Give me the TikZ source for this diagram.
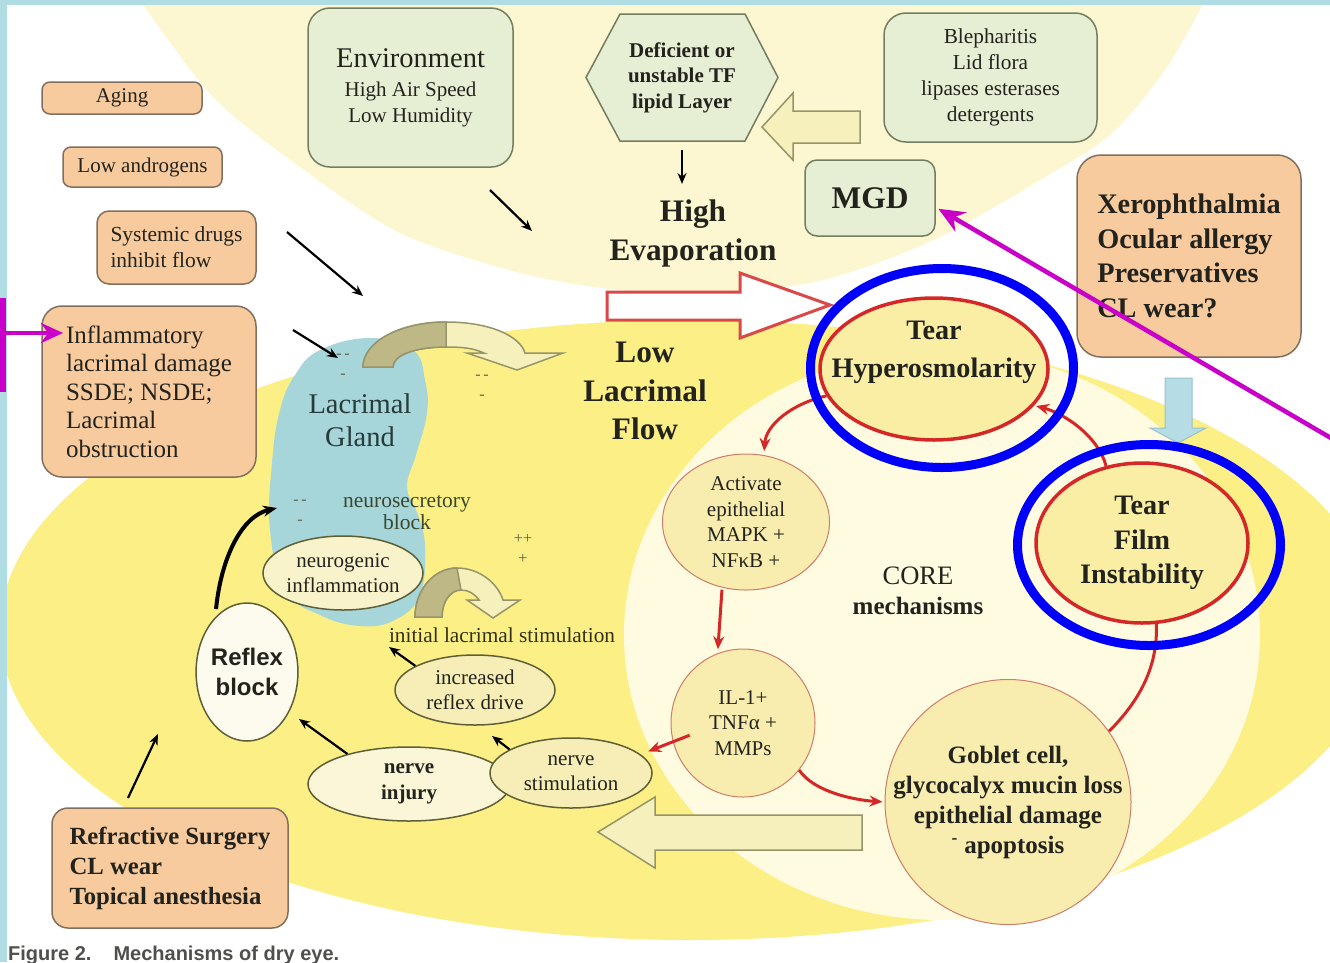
\documentclass[tikz,border=0pt]{standalone}
\usepackage{fontspec}
\setmainfont{Liberation Serif}
\setsansfont{Liberation Sans}
\usetikzlibrary{arrows.meta,shapes.geometric}

\newcommand{\setfs}[2]{\fontsize{#1}{#2}\selectfont}

\definecolor{edgecyan}{RGB}{176,221,228}
\definecolor{paleyellow}{RGB}{252,247,208}
\definecolor{brightyellow}{RGB}{252,239,133}
\definecolor{corecream}{RGB}{255,251,225}
\definecolor{boxorange}{RGB}{248,203,158}
\definecolor{orangeedge}{RGB}{130,112,95}
\definecolor{boxgreen}{RGB}{230,238,212}
\definecolor{greenedge}{RGB}{115,125,95}
\definecolor{ovalfill}{RGB}{249,236,175}
\definecolor{ovaledge}{RGB}{205,125,105}
\definecolor{tearfill}{RGB}{250,238,165}
\definecolor{tearred}{RGB}{212,40,40}
\definecolor{ringblue}{RGB}{0,0,250}
\definecolor{nervefill}{RGB}{246,238,182}
\definecolor{oliveedge}{RGB}{95,95,55}
\definecolor{glandblue}{RGB}{166,214,218}
\definecolor{glandtext}{RGB}{40,58,58}
\definecolor{arrowpale}{RGB}{246,241,188}
\definecolor{arrowolive}{RGB}{190,184,135}
\definecolor{arrowedge}{RGB}{150,148,105}
\definecolor{flowblue}{RGB}{182,220,230}
\definecolor{flowedge}{RGB}{150,195,205}
\definecolor{markmagenta}{RGB}{200,0,200}
\definecolor{inktext}{RGB}{35,35,30}
\definecolor{signgray}{RGB}{95,95,80}

\begin{document}
\begin{tikzpicture}[x=1pt, y=-1pt, text=inktext,
    orangebox/.style={draw=orangeedge, fill=boxorange, line width=1.5pt, rounded corners=12pt, inner sep=0pt},
    greenbox/.style={draw=greenedge, fill=boxgreen, line width=1.5pt, rounded corners=22pt, inner sep=0pt},
    coreoval/.style={ellipse, draw=ovaledge, fill=ovalfill, line width=1pt, inner sep=0pt, align=center, font=\setfs{21}{25.5}},
    tearoval/.style={ellipse, draw=tearred, fill=tearfill, line width=3.5pt, inner sep=0pt, align=center, font=\bfseries\setfs{28.2}{34.5}},
    bluering/.style={ellipse, draw=ringblue, line width=9pt, inner sep=0pt},
    nerveoval/.style={ellipse, draw=oliveedge, fill=nervefill, line width=1.5pt, inner sep=0pt, align=center, font=\setfs{21}{25.5}},
    smalltext/.style={font=\setfs{21.3}{25.5}, align=center},
    headline/.style={font=\bfseries\setfs{31.3}{39}, align=center},
    signlabel/.style={font=\setfs{16}{20}, align=center, text=signgray},
    blackarrow/.style={-{Stealth[length=11pt,width=9pt]}, line width=2.2pt},
    redarrow/.style={-{Stealth[length=13pt,width=11pt]}, draw=tearred, line width=3pt},
    magarrow/.style={-{Stealth[length=26pt,width=22pt]}, draw=markmagenta, line width=4.5pt},
    hollowarrow/.style={draw=arrowedge, fill=arrowpale, line width=1.5pt}]

    % frame and background zones
    \useasboundingbox (0,0) rectangle (1330,962);
    \fill[white] (0,0) rectangle (1330,962);
    \fill[paleyellow] plot[smooth] coordinates {(140,0) (213,97) (300,167) (400,233) (520,273) (620,290) (720,293) (810,283) (880,262) (950,232) (1040,180) (1110,135) (1165,70) (1205,0)} -- cycle;
    \fill[brightyellow] (690,630) ellipse [x radius=690, y radius=310];
    \fill[corecream] (942,635) ellipse [x radius=318, y radius=285];
    \fill[edgecyan] (0,0) rectangle (7,962);
    \fill[edgecyan] (0,0) rectangle (1330,5);

    % lacrimal gland
    \fill[glandblue] plot[smooth cycle, tension=0.7] coordinates {(370,338) (413,350) (425,380) (427,413) (416,455) (407,487) (418,515) (425,547) (420,595) (395,620) (360,626) (320,615) (285,590) (270,530) (272,463) (280,410) (295,375) (320,350)};
    \node[font=\setfs{28.5}{33}, align=center, text=glandtext] (glandlabel) at (360,420) {Lacrimal\\Gland};
    \node[smalltext, font=\setfs{21.5}{22}, text=glandtext!80!olive] (neurosec) at (407,513) {neurosecretory\\block};

    % curved flow arrows
    \filldraw[hollowarrow] (363,367) .. controls (363,342) and (400,322) .. (446,322) .. controls (490,322) and (520,336) .. (525,353) -- (563,353) -- (517,370) -- (467,353) -- (484,353) .. controls (473,348) and (462,347) .. (446,347) .. controls (415,347) and (393,355) .. (393,367) -- cycle;
    \filldraw[hollowarrow, fill=arrowolive] (363,367) .. controls (363,342) and (400,322) .. (446,322) -- (446,347) .. controls (415,347) and (393,355) .. (393,367) -- cycle;
    \filldraw[hollowarrow] (415,617) .. controls (415,590) and (434,568) .. (457,568) .. controls (480,568) and (498,584) .. (503,600) -- (520,600) -- (493,618) -- (467,600) -- (479,600) .. controls (474,593) and (468,590) .. (461,590) .. controls (450,590) and (442,602) .. (442,617) -- cycle;
    \filldraw[hollowarrow, fill=arrowolive] (415,617) .. controls (415,590) and (434,568) .. (457,568) -- (461,590) .. controls (450,590) and (442,602) .. (442,617) -- cycle;

    % plus and minus marks
    \node[signlabel] (signgland) at (343,366) {-\,-\\-};
    \node[signlabel] (signflow) at (482,387) {-\,-\\-};
    \node[signlabel] (signblock) at (300,512) {-\,-\\-};
    \node[signlabel] (signstim) at (523,549) {++\\+};

    % risk factor boxes
    \node[orangebox, rounded corners=8pt, minimum width=160pt, minimum height=32pt, font=\setfs{21}{25}] (aging) at (122,98) {Aging};
    \node[orangebox, rounded corners=8pt, minimum width=159pt, minimum height=40pt, font=\setfs{21}{25}] (andro) at (142.5,167) {Low androgens};
    \node[orangebox, minimum width=159pt, minimum height=73pt, align=left, font=\setfs{21.5}{26}] (sysdrug) at (176.5,247.5) {Systemic drugs\\inhibit flow};
    \node[orangebox, rounded corners=20pt, minimum width=214pt, minimum height=171pt, align=left, font=\setfs{25}{28.5}] (infl) at (149,391.5) {Inflammatory\\lacrimal damage\\SSDE; NSDE;\\Lacrimal\\obstruction};
    \node[orangebox, rounded corners=24pt, minimum width=224pt, minimum height=202pt, align=left, font=\bfseries\setfs{28.3}{34.5}] (xero) at (1189,256) {Xerophthalmia\\Ocular allergy\\Preservatives\\CL wear?};
    \node[orangebox, rounded corners=16pt, minimum width=236pt, minimum height=120pt, align=left, font=\bfseries\setfs{24.7}{30}] (refr) at (170,868) {Refractive Surgery\\CL wear\\Topical anesthesia};

    % evaporation side
    \node[greenbox, minimum width=205pt, minimum height=159pt, align=center, font=\setfs{21}{26}] (env) at (410.5,87.5) {{\setfs{28.5}{30}Environment}\\[3pt]High Air Speed\\Low Humidity};
    \fill[boxgreen, draw=greenedge, line width=1.5pt] (586,77.5) -- (620,14) -- (745,14) -- (778,77.5) -- (745,141) -- (620,141) -- cycle;
    \node[minimum width=192pt, minimum height=127pt, inner sep=0pt, align=center, font=\bfseries\setfs{21}{25.5}] (hex) at (682,77.5) {Deficient or\\unstable TF\\lipid Layer};
    \node[greenbox, minimum width=213pt, minimum height=129pt, align=center, font=\setfs{21.3}{26}] (bleph) at (990.5,77.5) {Blepharitis\\Lid flora\\lipases esterases\\detergents};
    \node[greenbox, rounded corners=12pt, minimum width=130pt, minimum height=76pt, font=\bfseries\setfs{31.5}{32}] (mgd) at (870,198) {MGD};
    \filldraw[hollowarrow] (860,111) -- (793,111) -- (793,93) -- (762,127) -- (793,160) -- (793,143) -- (860,143) -- cycle;
    \node[headline] (evap) at (693,233) {High\\Evaporation};
    \node[headline, font=\bfseries\setfs{31.3}{38.5}] (lowflow) at (645,391) {Low\\Lacrimal\\Flow};
    \filldraw[draw=tearred!85!white, fill=white, line width=3pt] (607,292) -- (740,292) -- (740,273) -- (830,305) -- (740,338) -- (740,320) -- (607,320) -- cycle;
    \filldraw[draw=flowedge, fill=flowblue, line width=1pt] (1165,378) -- (1192,378) -- (1192,428) -- (1206,428) -- (1178,443) -- (1150,428) -- (1165,428) -- cycle;

    % core mechanisms
    \node[tearoval, minimum width=228pt, minimum height=142pt] (hyp) at (934,369) {};
    \node[font=\bfseries\setfs{28.2}{38}, align=center] (hyptext) at (934,352) {Tear\\Hyperosmolarity};
    \node[tearoval, minimum width=212pt, minimum height=160pt] (film) at (1142,543) {Tear\\Film\\Instability};
    \node[coreoval, minimum width=167pt, minimum height=136pt] (act) at (746,522) {Activate\\epithelial\\MAPK +\\NFκB +};
    \node[coreoval, minimum width=144pt, minimum height=148pt] (il) at (743,723) {IL-1+\\TNFα +\\MMPs};
    \node[coreoval, inner sep=-40pt, minimum width=246pt, minimum height=245pt, font=\bfseries\setfs{25}{30}] (goblet) at (1008,802) {Goblet cell,\\glycocalyx mucin loss\\epithelial damage\\\textsuperscript{-} apoptosis};
    \node[font=\bfseries\setfs{25}{30}, align=center] (core) at (918,591) {{\mdseries\setfs{26.6}{30}CORE}\\mechanisms};

    % neural loop
    \node[nerveoval, fill=nervefill!70!white, minimum width=150pt, minimum height=74pt] (neurogen) at (343,573) {neurogenic\\inflammation};
    \node[smalltext, text=inktext!85!olive] (initstim) at (502,635) {initial lacrimal stimulation};
    \node[nerveoval, minimum width=160pt, minimum height=70pt] (drive) at (475,690) {increased\\reflex drive};
    \node[nerveoval, fill=nervefill!55!white, minimum width=202pt, minimum height=74pt, font=\bfseries\setfs{21}{26}] (inj) at (409,784) {nerve\\injury};
    \node[nerveoval, minimum width=162pt, minimum height=70pt] (stim) at (571,773) {nerve\\stimulation};
    \node[nerveoval, fill=nervefill!25!white, minimum width=100pt, minimum height=138pt, font=\sffamily\bfseries\setfs{24}{30}] (reflex) at (247,672) {Reflex\\block};
    \filldraw[hollowarrow] (862,815) -- (655,815) -- (655,797) -- (598,832) -- (655,868) -- (655,850) -- (862,850) -- cycle;

    % arrow ends
    \coordinate (envtail) at (490,190);
    \coordinate (envtip) at (532,231);
    \coordinate (drugtail) at (287,232);
    \coordinate (drugtip) at (363,296);
    \coordinate (infltail) at (293,330);
    \coordinate (infltip) at (338,358);
    \coordinate (hextip) at (682,184);
    \coordinate (refrtail) at (128,798);
    \coordinate (refrtip) at (158,734);
    \coordinate (injtip) at (299,719);
    \coordinate (drivetip) at (389,647);
    \coordinate (stimtip) at (492,736);
    \coordinate (glandin) at (277,508);

    % black arrows
    \draw[blackarrow] (envtail) -- (envtip);
    \draw[blackarrow] (drugtail) -- (drugtip);
    \draw[blackarrow] (infltail) -- (infltip);
    \draw[blackarrow, shorten <=9pt] (hex.south) -- (hextip);
    \draw[blackarrow] (refrtail) -- (refrtip);
    \draw[blackarrow] (inj.154) -- (injtip);
    \draw[blackarrow] (drive.158) -- (drivetip);
    \draw[blackarrow] (stim.159) -- (stimtip);
    \draw[-{Stealth[length=14pt,width=11pt]}, line width=4pt, shorten <=8pt] (reflex.120) .. controls +(6,-60) and +(-35,8) .. (glandin);

    % red core arrows
    \draw[redarrow, shorten >=4pt] (hyp.194) .. controls +(-35,8) and +(2,-30) .. (act.75);
    \draw[redarrow, shorten <=2pt, shorten >=4pt] (act.250) -- (il.110);
    \draw[redarrow, shorten >=2pt] (il.-40) .. controls +(15,22) and +(-30,-2) .. (goblet.180);
    \draw[redarrow, shorten <=-18pt, shorten >=8pt] (il.195) -- (stim.15);
    \draw[tearred, line width=3pt] (goblet.35) .. controls +(28,-28) and +(2,45) .. (film.-80);
    \draw[redarrow, shorten >=2pt] (film.115) .. controls +(-8,-30) and +(30,8) .. (hyp.-20);

    % highlight rings
    \node[bluering, minimum width=263pt, minimum height=199pt] (hypring) at (942,368) {};
    \node[bluering, minimum width=263pt, minimum height=201pt] (filmring) at (1149,545) {};

    % magenta pointers
    \coordinate (magtop) at (3,298);
    \coordinate (magbottom) at (3,392);
    \coordinate (magleft) at (3,333);
    \coordinate (inflpoint) at (63,333);
    \coordinate (magstart) at (1336,441);
    \draw[markmagenta, line width=6pt] (magtop) -- (magbottom);
    \draw[magarrow, -{Stealth[length=22pt,width=20pt]}] (magleft) -- (inflpoint);
    \draw[magarrow, shorten >=3pt] (magstart) -- (mgd.-8);

    % caption
    \node[anchor=base west, inner sep=0pt, font=\sffamily\bfseries\setfs{20}{20}, text=inktext!80!white] (caption) at (8,960) {Figure 2.\hspace{22pt}Mechanisms of dry eye.};
\end{tikzpicture}
\end{document}
